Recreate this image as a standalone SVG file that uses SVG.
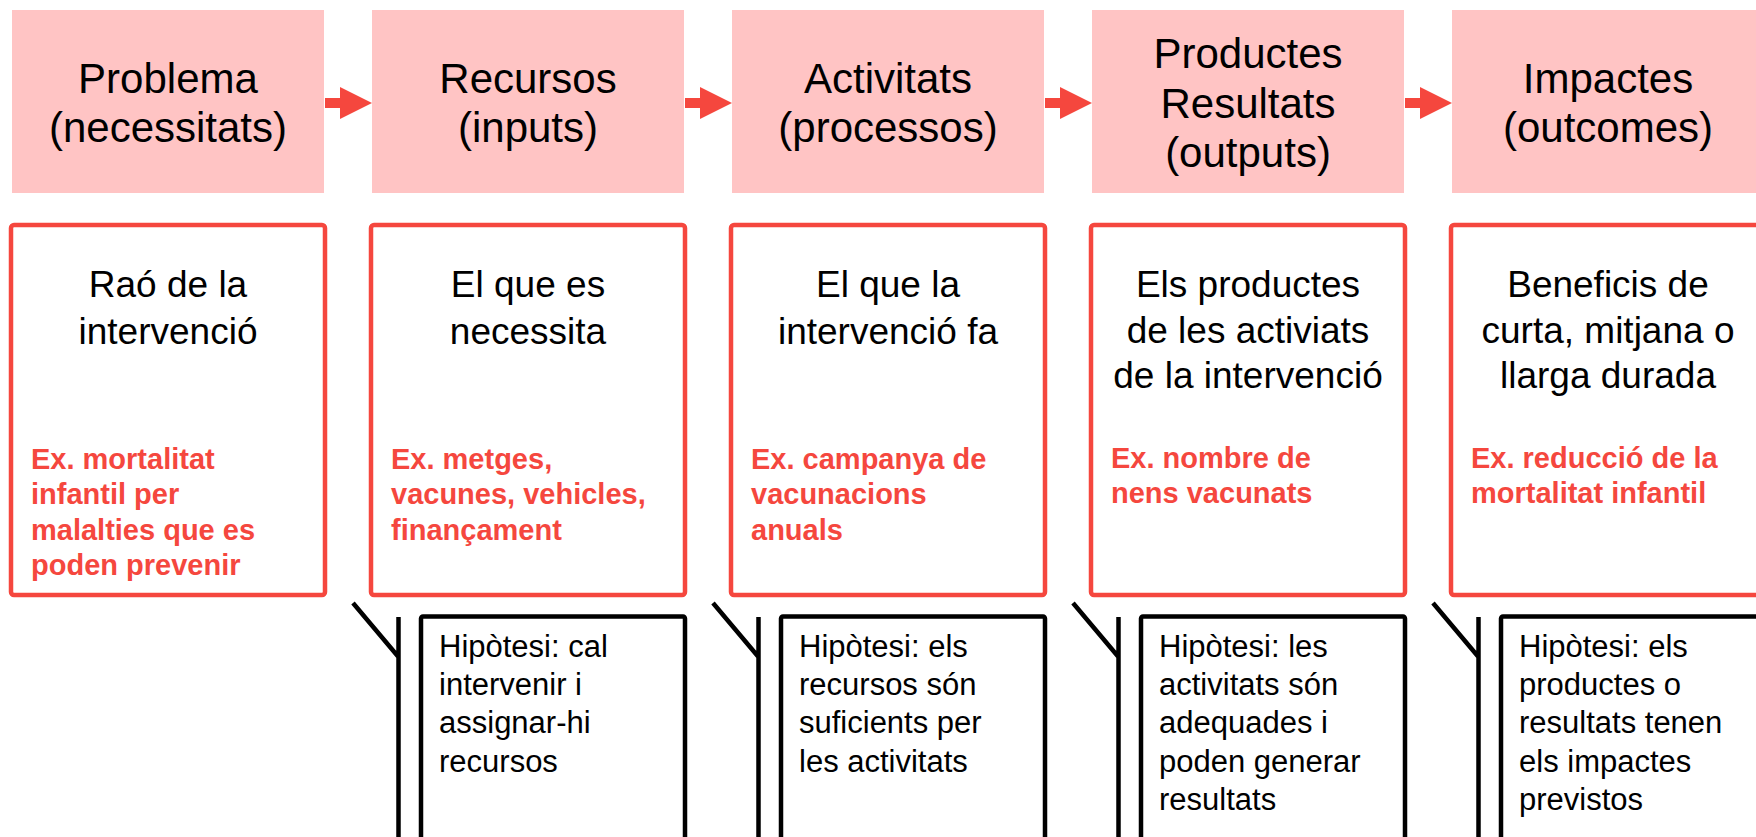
<svg xmlns="http://www.w3.org/2000/svg" width="1756" height="837" viewBox="0 0 1756 837">
<style>
.top{fill:#FFC4C4;stroke:none}
.tt{font-family:"Liberation Sans",Arial,sans-serif;font-size:42px;fill:#000;text-anchor:middle}
.red{fill:#fff;stroke:#F5473E;stroke-width:4.5}
.bt{font-family:"Liberation Sans",Arial,sans-serif;font-size:37px;fill:#000;text-anchor:middle}
.rt{font-family:"Liberation Sans",Arial,sans-serif;font-size:29px;font-weight:bold;fill:#F5473E}
.hyp{fill:#fff;stroke:#000;stroke-width:4.5}
.ht{font-family:"Liberation Sans",Arial,sans-serif;font-size:31px;fill:#000}
.arr{fill:#F5473E}
.br{fill:none;stroke:#000;stroke-width:4.5}
</style>
<rect width="1756" height="837" fill="#fff"/>
<g id="connectors">
<polygon class="arr" points="325,98 340,98 340,87 372,103 340,119 340,108 325,108"/>
<polygon class="arr" points="685,98 700,98 700,87 732,103 700,119 700,108 685,108"/>
<polygon class="arr" points="1045,98 1060,98 1060,87 1092,103 1060,119 1060,108 1045,108"/>
<polygon class="arr" points="1405,98 1420,98 1420,87 1452,103 1420,119 1420,108 1405,108"/>
<path class="br" d="M353,603 L398.5,657 M398.5,617 L398.5,840"/>
<path class="br" d="M713,603 L758.5,657 M758.5,617 L758.5,840"/>
<path class="br" d="M1073,603 L1118.5,657 M1118.5,617 L1118.5,840"/>
<path class="br" d="M1433,603 L1478.5,657 M1478.5,617 L1478.5,840"/>
</g>
<g id="top-problema">
<rect class="top" x="12" y="10" width="312" height="183"/>
<text class="tt" x="168" y="93">Problema</text>
<text class="tt" x="168" y="142">(necessitats)</text>
</g>
<g id="top-recursos">
<rect class="top" x="372" y="10" width="312" height="183"/>
<text class="tt" x="528" y="93">Recursos</text>
<text class="tt" x="528" y="142">(inputs)</text>
</g>
<g id="top-activitats">
<rect class="top" x="732" y="10" width="312" height="183"/>
<text class="tt" x="888" y="93">Activitats</text>
<text class="tt" x="888" y="142">(processos)</text>
</g>
<g id="top-productes">
<rect class="top" x="1092" y="10" width="312" height="183"/>
<text class="tt" x="1248" y="68">Productes</text>
<text class="tt" x="1248" y="118">Resultats</text>
<text class="tt" x="1248" y="167">(outputs)</text>
</g>
<g id="top-impactes">
<rect class="top" x="1452" y="10" width="312" height="183"/>
<text class="tt" x="1608" y="93">Impactes</text>
<text class="tt" x="1608" y="142">(outcomes)</text>
</g>
<g id="desc-problema">
<rect class="red" x="11" y="225" width="314" height="370" rx="3"/>
<text class="bt" x="168" y="297">Raó de la</text>
<text class="bt" x="168" y="344">intervenció</text>
<text class="rt" x="31" y="469">Ex. mortalitat</text>
<text class="rt" x="31" y="504">infantil per</text>
<text class="rt" x="31" y="540">malalties que es</text>
<text class="rt" x="31" y="575">poden prevenir</text>
</g>
<g id="desc-recursos">
<rect class="red" x="371" y="225" width="314" height="370" rx="3"/>
<text class="bt" x="528" y="297">El que es</text>
<text class="bt" x="528" y="344">necessita</text>
<text class="rt" x="391" y="469">Ex. metges,</text>
<text class="rt" x="391" y="504">vacunes, vehicles,</text>
<text class="rt" x="391" y="540">finançament</text>
</g>
<g id="desc-activitats">
<rect class="red" x="731" y="225" width="314" height="370" rx="3"/>
<text class="bt" x="888" y="297">El que la</text>
<text class="bt" x="888" y="344">intervenció fa</text>
<text class="rt" x="751" y="469">Ex. campanya de</text>
<text class="rt" x="751" y="504">vacunacions</text>
<text class="rt" x="751" y="540">anuals</text>
</g>
<g id="desc-productes">
<rect class="red" x="1091" y="225" width="314" height="370" rx="3"/>
<text class="bt" x="1248" y="297">Els productes</text>
<text class="bt" x="1248" y="343">de les activiats</text>
<text class="bt" x="1248" y="388">de la intervenció</text>
<text class="rt" x="1111" y="468">Ex. nombre de</text>
<text class="rt" x="1111" y="503">nens vacunats</text>
</g>
<g id="desc-impactes">
<rect class="red" x="1451" y="225" width="314" height="370" rx="3"/>
<text class="bt" x="1608" y="297">Beneficis de</text>
<text class="bt" x="1608" y="343">curta, mitjana o</text>
<text class="bt" x="1608" y="388">llarga durada</text>
<text class="rt" x="1471" y="468">Ex. reducció de la</text>
<text class="rt" x="1471" y="503">mortalitat infantil</text>
</g>
<g id="hyp-recursos">
<rect class="hyp" x="421" y="616.5" width="264" height="260" rx="2"/>
<text class="ht" x="439" y="657">Hipòtesi: cal</text>
<text class="ht" x="439" y="695">intervenir  i</text>
<text class="ht" x="439" y="733">assignar-hi</text>
<text class="ht" x="439" y="772">recursos</text>
</g>
<g id="hyp-activitats">
<rect class="hyp" x="781" y="616.5" width="264" height="260" rx="2"/>
<text class="ht" x="799" y="657">Hipòtesi: els</text>
<text class="ht" x="799" y="695">recursos són</text>
<text class="ht" x="799" y="733">suficients per</text>
<text class="ht" x="799" y="772">les activitats</text>
</g>
<g id="hyp-productes">
<rect class="hyp" x="1141" y="616.5" width="264" height="260" rx="2"/>
<text class="ht" x="1159" y="657">Hipòtesi: les</text>
<text class="ht" x="1159" y="695">activitats són</text>
<text class="ht" x="1159" y="733">adequades i</text>
<text class="ht" x="1159" y="772">poden generar</text>
<text class="ht" x="1159" y="810">resultats</text>
</g>
<g id="hyp-impactes">
<rect class="hyp" x="1501" y="616.5" width="264" height="260" rx="2"/>
<text class="ht" x="1519" y="657">Hipòtesi: els</text>
<text class="ht" x="1519" y="695">productes o</text>
<text class="ht" x="1519" y="733">resultats tenen</text>
<text class="ht" x="1519" y="772">els impactes</text>
<text class="ht" x="1519" y="810">previstos</text>
</g>
</svg>
